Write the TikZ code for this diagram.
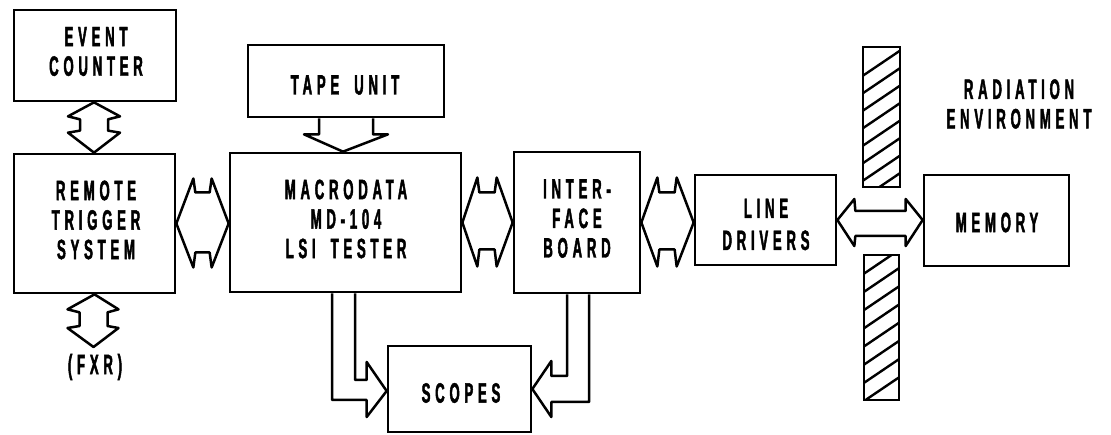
\documentclass[tikz,border=0pt]{standalone}
\usepackage{fontspec}
\newfontfamily\lblfont{Liberation Sans}[FakeStretch=0.47,LetterSpace=17,FakeBold=1.6]
\usetikzlibrary{calc}
\newcommand{\wsp}{\hskip 15pt\relax}
\begin{document}
\begin{tikzpicture}[x=1pt,y=1pt,
  box/.style n args={2}{draw, line width=2.7pt, inner sep=0pt, minimum width=#1pt, minimum height=#2pt},
  bar/.style n args={2}{draw, line width=2.7pt, inner sep=0pt, minimum width=#1pt, minimum height=#2pt},
  hatch/.style={line width=2.4pt},
  barrow/.style={draw, line width=2.5pt, line join=round},
  lbl/.style={font=\lblfont\bfseries\fontsize{28}{29.5}\selectfont, align=center, inner sep=0pt},
  lblwide/.style={font=\lblfont\bfseries\fontsize{28}{32}\selectfont, align=center, inner sep=0pt}]
\useasboundingbox (0,0) rectangle (1111,-435);
% boxes
\node[box={162}{91}] (ec) at (95,-55.5) {};
\node[box={196}{72}] (tape) at (346,-81) {};
\node[box={161}{139}] (rts) at (94.5,-223.5) {};
\node[box={231}{139}] (mac) at (345.5,-222.5) {};
\node[box={126}{141}] (ifb) at (577,-222.5) {};
\node[box={141}{90}] (ld) at (765.5,-220) {};
\node[box={145}{91}] (mem) at (996.5,-220.5) {};
\node[box={143}{86}] (sc) at (459.5,-389) {};
% shielding bars
\node[bar={37}{140}, path picture={
   \foreach \k in {0,...,7}
     \draw[hatch] ($(path picture bounding box.north west)+(-2,-30-17.5*\k)$) -- ++(41,27.7);
  }] (barU) at (881.5,-117) {};
\node[bar={35}{145}, path picture={
   \foreach \k in {0,...,7}
     \draw[hatch] ($(path picture bounding box.north west)+(-2,-20-18.2*\k)$) -- ++(39,26.4);
  }] (barL) at (881.5,-327.5) {};
% labels
\node[lbl] (ect) at (96,-51.5) {EVENT\\COUNTER};
\node[lbl] (tapet) at (345,-85) {TAPE\wsp UNIT};
\node[lbl] (rtst) at (96,-220) {REMOTE\\TRIGGER\\SYSTEM};
\node[lbl] (mact) at (346,-219) {MACRODATA\\MD-104\\LSI\wsp TESTER};
\node[lbl] (ifbt) at (577,-218.5) {INTER-\\FACE\\BOARD};
\node[lblwide] (ldt) at (766,-224.5) {LINE\\DRIVERS};
\node[lbl] (memt) at (997,-222.5) {MEMORY};
\node[lbl] (sct) at (461,-393) {SCOPES};
\node[lbl] (fxrt) at (95,-367) {(FXR)};
\node[lbl] (radt) at (1019,-104) {RADIATION\\ENVIRONMENT};
\coordinate (fxr) at (94.5,-347);
% event counter <-> remote trigger
\draw[barrow] let \p1=(ec.south), \p2=(rts.north) in
  (\x1-1pt,\y1) -- (\x1+25pt,\y1-14pt) -- (\x1+13pt,\y1-17pt) -- (\x1+13pt,\y2+22pt) -- (\x1+25pt,\y2+20pt)
  -- (\x1-1pt,\y2) -- (\x1-27pt,\y2+20pt) -- (\x1-15pt,\y2+22pt) -- (\x1-15pt,\y1-17pt) -- (\x1-27pt,\y1-14pt) -- cycle;
% remote trigger <-> FXR
\draw[barrow] let \p1=(rts.south), \p2=(fxr) in
  (\x1,\y1) -- (\x1+24pt,\y1-15pt) -- (\x1+13pt,\y1-18pt) -- (\x1+13pt,\y2+21pt) -- (\x1+24pt,\y2+19pt)
  -- (\x1-1pt,\y2) -- (\x1-27pt,\y2+19pt) -- (\x1-15pt,\y2+21pt) -- (\x1-15pt,\y1-18pt) -- (\x1-27pt,\y1-15pt) -- cycle;
% tape unit -> macrodata
\draw[barrow] let \p1=(tape.south), \p2=(mac.north) in
  (\x1-27pt,\y1) -- (\x1-27pt,\y1-16pt) -- (\x1-42pt,\y1-16pt) -- (\x1-3pt,\y2) -- (\x1+42pt,\y1-16pt)
  -- (\x1+27pt,\y1-16pt) -- (\x1+27pt,\y1);
% remote trigger <-> macrodata
\draw[barrow] let \p1=(rts.east), \p2=(mac.west) in
  (\x1,\y1) -- (\x1+17pt,\y1+45pt) -- (\x1+19pt,\y1+31pt) -- (\x2-19pt,\y1+31pt) -- (\x2-17pt,\y1+45pt)
  -- (\x2,\y1) -- (\x2-17pt,\y1-44pt) -- (\x2-19pt,\y1-29pt) -- (\x1+19pt,\y1-29pt) -- (\x1+17pt,\y1-44pt) -- cycle;
% macrodata <-> interface
\draw[barrow] let \p1=(mac.east), \p2=(ifb.west) in
  (\x1,\y1) -- (\x1+15pt,\y1+45pt) -- (\x1+17pt,\y1+30pt) -- (\x2-18pt,\y1+30pt) -- (\x2-16pt,\y1+45pt)
  -- (\x2,\y1) -- (\x2-16pt,\y1-44pt) -- (\x2-18pt,\y1-27pt) -- (\x1+17pt,\y1-27pt) -- (\x1+15pt,\y1-44pt) -- cycle;
% interface <-> line drivers
\draw[barrow] let \p1=(ifb.east), \p2=(ld.west) in
  (\x1,\y1) -- (\x1+16pt,\y1+45pt) -- (\x1+18pt,\y1+30pt) -- (\x2-19pt,\y1+30pt) -- (\x2-17pt,\y1+45pt)
  -- (\x2,\y1) -- (\x2-17pt,\y1-44pt) -- (\x2-19pt,\y1-27pt) -- (\x1+18pt,\y1-27pt) -- (\x1+16pt,\y1-44pt) -- cycle;
% line drivers <-> memory
\draw[barrow] let \p1=(ld.east), \p2=(mem.west) in
  (\x1,\y1) -- (\x1+17pt,\y1+21pt) -- (\x1+18pt,\y1+9pt) -- (\x2-17pt,\y1+9pt) -- (\x2-17pt,\y1+21pt)
  -- (\x2,\y1) -- (\x2-17pt,\y1-26pt) -- (\x2-17pt,\y1-16pt) -- (\x1+18pt,\y1-16pt) -- (\x1+17pt,\y1-26pt) -- cycle;
% macrodata -> scopes
\draw[barrow] let \p1=(mac.south), \p2=(sc.west) in
  (\x1-13.5pt,\y1) -- (\x1-13.5pt,\y2-11pt) -- (\x2-20pt,\y2-11pt) -- (\x2-20pt,\y2-28pt) -- (\x2,\y2-2pt)
  -- (\x2-20pt,\y2+27pt) -- (\x2-20pt,\y2+9pt) -- (\x1+9.5pt,\y2+9pt) -- (\x1+9.5pt,\y1);
% interface -> scopes
\draw[barrow] let \p1=(ifb.south), \p2=(sc.east) in
  (\x1+12pt,\y1) -- (\x1+12pt,\y2-13pt) -- (\x2+19pt,\y2-13pt) -- (\x2+19pt,\y2-28pt) -- (\x2,\y2)
  -- (\x2+19pt,\y2+28pt) -- (\x2+19pt,\y2+13pt) -- (\x1-10pt,\y2+13pt) -- (\x1-10pt,\y1);
\end{tikzpicture}
\end{document}
